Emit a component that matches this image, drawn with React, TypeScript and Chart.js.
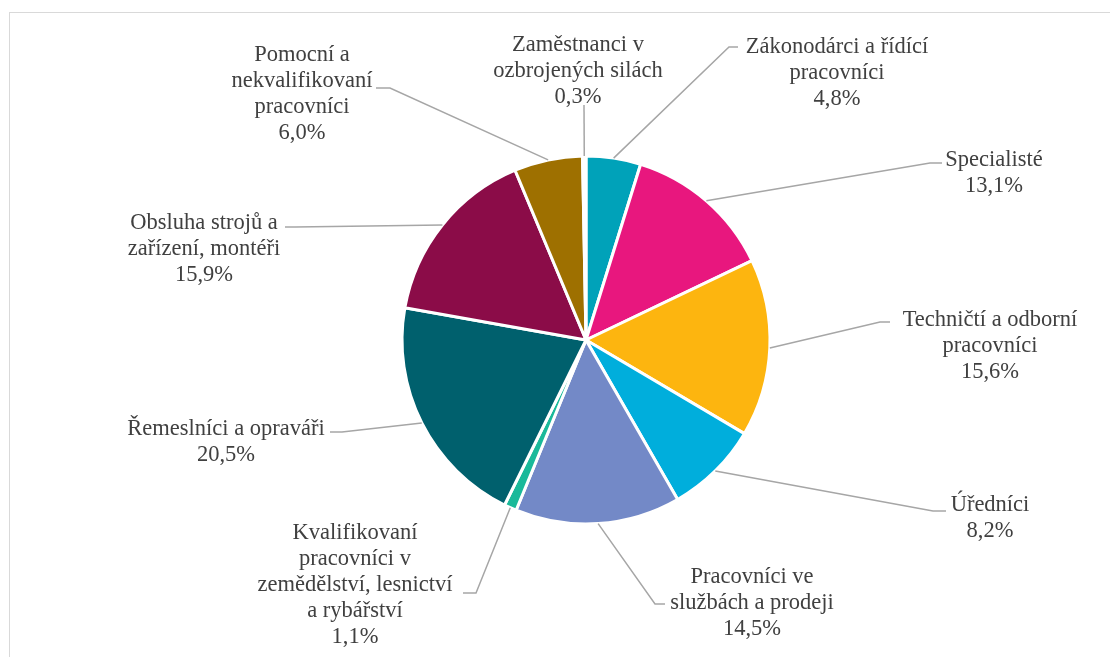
import React, { useEffect, useRef } from "react";
import { Chart, registerables } from "chart.js";

Chart.register(...registerables);

// ---- data ----
const categories: string[] = [
  "Zákonodárci a řídící\npracovníci",
  "Specialisté",
  "Techničtí a odborní\npracovníci",
  "Úředníci",
  "Pracovníci ve\nslužbách a prodeji",
  "Kvalifikovaní\npracovníci v\nzemědělství, lesnictví\na rybářství",
  "Řemeslníci a opraváři",
  "Obsluha strojů a\nzařízení, montéři",
  "Pomocní a\nnekvalifikovaní\npracovníci",
  "Zaměstnanci v\nozbrojených silách",
];
const shares: number[] = [4.8, 13.1, 15.6, 8.2, 14.5, 1.1, 20.5, 15.9, 6.0, 0.3];

// ---- styles ----
const sliceColors: string[] = [
  "#00A2B9",
  "#E8177E",
  "#FDB50F",
  "#00AEDC",
  "#7389C7",
  "#1AB99A",
  "#00606D",
  "#8B0C48",
  "#9E7000",
  "#FFFFFF",
];

// label layout, relative to pie centre: elbow, line end, text centre (first line)
const labelLayout = [
  { ex: 143, ey: -293, hx: 152, tx: 251, ty: -293 },
  { ex: 344, ey: -177, hx: 356, tx: 408, ty: -180 },
  { ex: 294, ey: -18, hx: 304, tx: 404, ty: -20 },
  { ex: 347, ey: 171, hx: 360, tx: 404, ty: 165 },
  { ex: 69, ey: 264, hx: 79, tx: 166, ty: 237 },
  { ex: -110, ey: 253, hx: -123, tx: -231, ty: 193 },
  { ex: -244, ey: 92, hx: -256, tx: -360, ty: 89 },
  { ex: -291, ey: -113, hx: -301, tx: -382, ty: -117 },
  { ex: -196, ey: -252, hx: -210, tx: -284, ty: -285 },
  { ex: -2, ey: -235, hx: -2, tx: -8, ty: -295 },
];

const FONT = "22.5px 'Liberation Serif', 'DejaVu Serif', serif";
const LINE_H = 26;

const labelPlugin = {
  id: "outsideLabels",
  afterDraw(chart: any) {
    const ctx = chart.ctx;
    const meta = chart.getDatasetMeta(0);
    ctx.save();
    meta.data.forEach((arc: any, i: number) => {
      const { x, y, startAngle, endAngle, outerRadius } = arc.getProps(
        ["x", "y", "startAngle", "endAngle", "outerRadius"],
        true
      );
      const mid = (startAngle + endAngle) / 2;
      const sx = x + Math.cos(mid) * outerRadius;
      const sy = y + Math.sin(mid) * outerRadius;
      const L = labelLayout[i];
      ctx.strokeStyle = "#A6A6A6";
      ctx.lineWidth = 1.5;
      ctx.beginPath();
      ctx.moveTo(sx, sy);
      ctx.lineTo(x + L.ex, y + L.ey);
      ctx.lineTo(x + L.hx, y + L.ey);
      ctx.stroke();

      const lines = categories[i].split("\n");
      lines.push(shares[i].toFixed(1).replace(".", ",") + "%");
      ctx.fillStyle = "#404040";
      ctx.font = FONT;
      ctx.textAlign = "center";
      ctx.textBaseline = "middle";
      lines.forEach((ln, k) => {
        ctx.fillText(ln, x + L.tx, y + L.ty + k * LINE_H);
      });
    });
    ctx.restore();
  },
};

export default function App() {
  const ref = useRef<HTMLCanvasElement | null>(null);
  useEffect(() => {
    if (!ref.current) return;
    const chart = new Chart(ref.current, {
      type: "pie",
      data: {
        labels: categories,
        datasets: [
          {
            data: shares,
            backgroundColor: sliceColors,
            borderColor: "#FFFFFF",
            borderWidth: 3,
          },
        ],
      },
      options: {
        responsive: false,
        animation: false,
        radius: 184,
        layout: { padding: { left: 46, right: 0, top: 15, bottom: 0 } },
        plugins: {
          legend: { display: false },
          tooltip: { enabled: false },
        },
      } as any,
      plugins: [labelPlugin],
    });
    return () => chart.destroy();
  }, []);

  return (
    <div
      style={{
        position: "relative",
        width: 1110,
        height: 649,
        overflow: "hidden",
      }}
    >
      <div
        style={{
          position: "absolute",
          left: 1,
          top: 4,
          width: 1200,
          height: 800,
          border: "1px solid #D9D9D9",
        }}
      />
      <canvas
        ref={ref}
        width={1110}
        height={649}
        style={{ position: "absolute", left: 0, top: 0 }}
      />
    </div>
  );
}
